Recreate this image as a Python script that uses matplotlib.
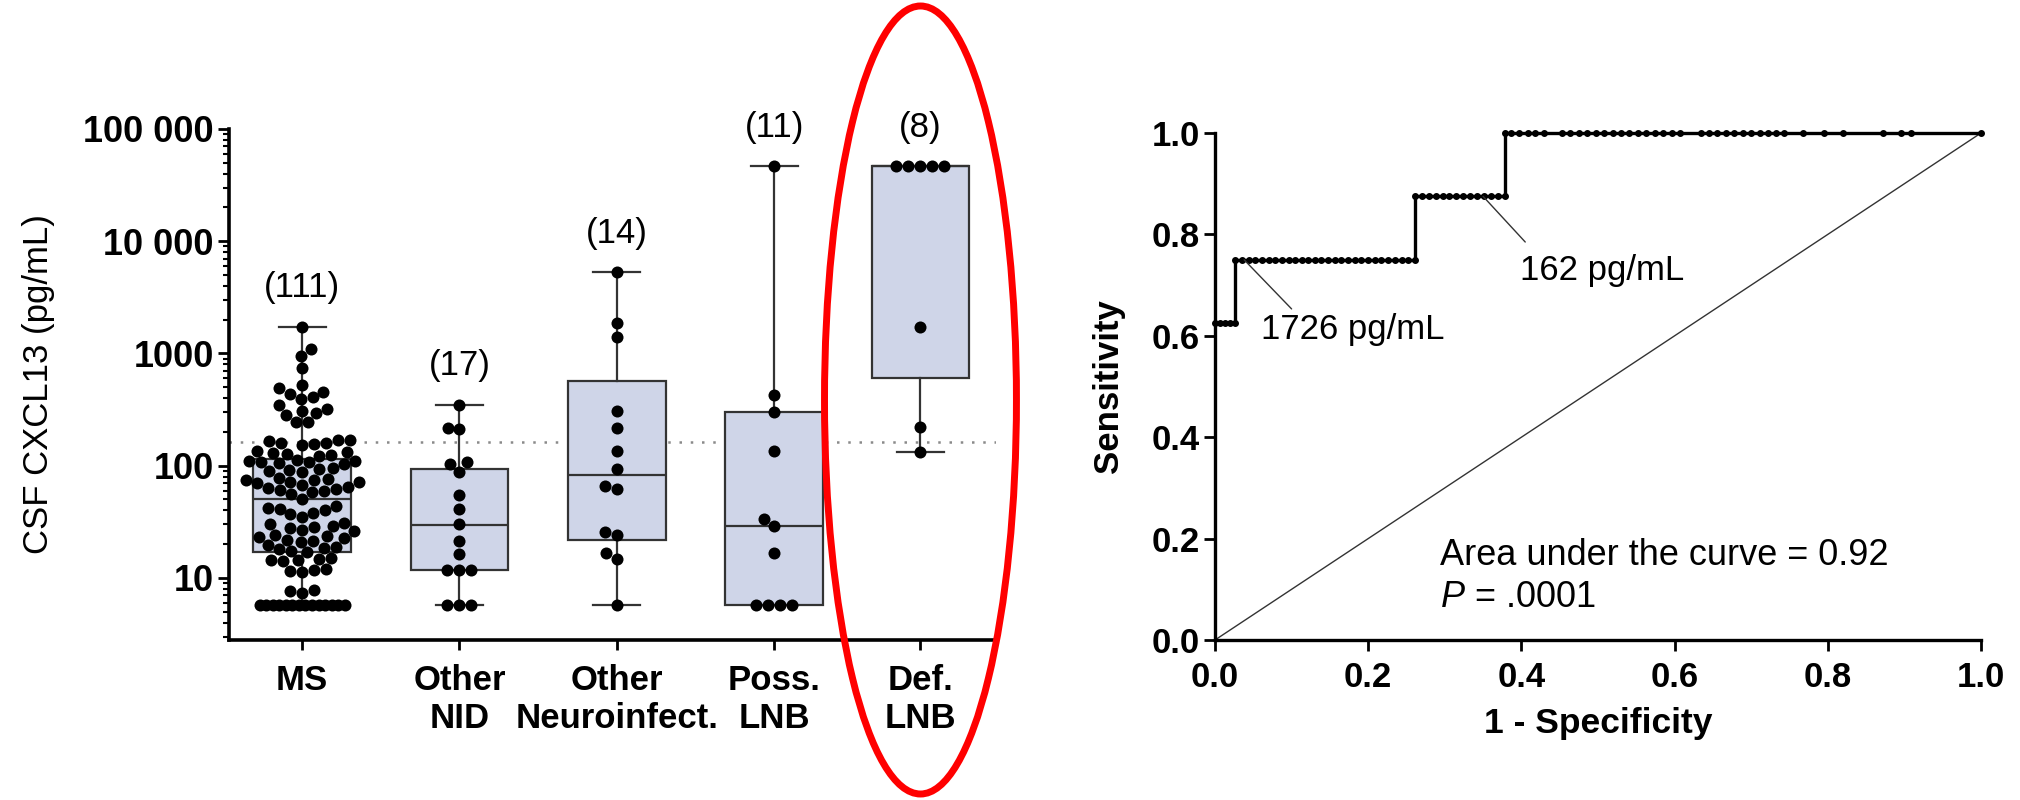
import numpy as np
import matplotlib
matplotlib.use("Agg")
import matplotlib.pyplot as plt
from matplotlib import transforms
from matplotlib.patches import Ellipse
from matplotlib.ticker import FixedLocator, LogLocator, NullFormatter

plt.rcParams['font.family'] = ['Liberation Sans', 'DejaVu Sans']
plt.rcParams['mathtext.fontset'] = 'custom'
plt.rcParams['mathtext.it'] = 'Liberation Sans:italic'
plt.rcParams['mathtext.rm'] = 'Liberation Sans'

# ---- left panel: CSF CXCL13 per group (pg/mL) ----
GROUPS = ["MS", "Other\nNID", "Other\nNeuroinfect.", "Poss.\nLNB", "Def.\nLNB"]

ms_values = [1726, 1085, 940, 736, 521, 490, 452, 434, 407, 392, 345, 320, 307, 295, 283, 245, 245,
             170, 168, 165, 160, 158, 155, 153,
             135, 132, 130, 128, 125, 122,
             112, 111, 110, 108, 107, 105, 104,
             95, 93, 92, 90, 88,
             78, 76, 75, 74, 72, 71, 70, 68,
             64, 63, 62, 61, 60, 58, 56,
             51,
             44, 42, 41, 40, 38, 37, 35,
             31, 30, 29, 28.5, 28, 27, 26,
             24, 23.5, 23, 22.5, 22, 21.5, 21,
             19.5, 19, 18.5, 18, 17.5, 17,
             15, 14.8, 14.6, 14.4, 14.2,
             12, 11.8, 11.6, 11.4,
             7.8, 7.6, 7.4,
             5.8, 5.8, 5.8, 5.8, 5.8, 5.8, 5.8, 5.8, 5.8, 5.8, 5.8, 5.8, 5.8, 5.8]
nid_values = [349, 215, 212, 107, 103, 88, 55, 41, 30, 21.5, 16.5, 11.7, 11.7, 11.7, 5.8, 5.8, 5.8]
neuro_values = [5300, 1850, 1390, 306, 215, 136, 93.6, 66, 62, 25.7, 24, 16.6, 14.8, 5.8]
poss_values = [46400, 425, 300, 136, 33.4, 29.3, 16.6, 5.8, 5.8, 5.8, 5.8]
def_values = [46400, 46400, 46400, 46400, 46400, 1726, 220, 133]

box_q1 = [16.9, 11.7, 22, 5.8, 604]
box_med = [50.7, 29.9, 82, 29.3, 46400]
box_q3 = [114, 93.6, 565, 300, 46400]
whisk_lo = [5.8, 5.8, 5.8, 5.8, 133]
whisk_hi = [1726, 349, 5300, 46400, 46400]

cutoff = 162

y_ticks = [10, 100, 1000, 10000, 100000]
y_tick_labels = ["10", "100", "1000", "10 000", "100 000"]

# ---- right panel: ROC curve ----
roc_levels = [0.625, 0.75, 0.875, 1.0]
roc_fpr_l1 = [0.0, 0.007, 0.013, 0.020, 0.026]
roc_fpr_l2 = [0.026, 0.035, 0.044, 0.052, 0.061, 0.070, 0.078, 0.087, 0.096, 0.104, 0.113, 0.122,
              0.131, 0.139, 0.148, 0.157, 0.165, 0.174, 0.183, 0.191, 0.200, 0.209, 0.217, 0.226,
              0.235, 0.244, 0.252, 0.261]
roc_fpr_l3 = [0.261, 0.270, 0.279, 0.288, 0.297, 0.306, 0.315, 0.324, 0.333, 0.342, 0.351, 0.360,
              0.369, 0.379]
roc_fpr_l4 = [0.379, 0.386, 0.397, 0.408, 0.418, 0.429, 0.453, 0.464, 0.475, 0.486, 0.497, 0.508,
              0.519, 0.530, 0.541, 0.552, 0.563, 0.574, 0.585, 0.596, 0.607, 0.634, 0.645, 0.656,
              0.667, 0.678, 0.689, 0.700, 0.711, 0.722, 0.733, 0.743, 0.768, 0.795, 0.820, 0.872,
              0.896, 0.909, 1.0]
roc_ticks = [0.0, 0.2, 0.4, 0.6, 0.8, 1.0]

BOX_FACE = "#cfd5e8"
EDGE = "#333333"
GROUP_POS = [0, 1, 2, 3, 3.93]


def swarm_x(values, center, ax, d=12.0, max_span=85.0):
    """Beeswarm offsets computed in pixel space; equal values go in one row."""
    vals = np.asarray(values, float)
    ypix = ax.transData.transform(np.column_stack([np.full(len(vals), center), vals]))[:, 1]
    xoff = np.zeros(len(vals))
    done = np.zeros(len(vals), bool)
    placed = []
    for v in np.unique(vals):
        idx = np.where(vals == v)[0]
        if len(idx) > 1:
            step = min(d, max_span / (len(idx) - 1))
            offs = (np.arange(len(idx)) - (len(idx) - 1) / 2) * step
            xoff[idx] = offs
            done[idx] = True
            placed += [(o, ypix[idx[0]]) for o in offs]
    for i in np.argsort(ypix):
        if done[i]:
            continue
        y = ypix[i]
        near = [(px, py) for px, py in placed if abs(py - y) < d]
        cands = [0.0]
        for px, py in near:
            dx = np.sqrt(d ** 2 - (py - y) ** 2)
            cands += [px - dx, px + dx]
        for c in sorted(cands, key=abs):
            if all((c - px) ** 2 + (y - py) ** 2 >= d ** 2 - 1e-6 for px, py in near):
                xoff[i] = c
                break
        placed.append((xoff[i], y))
    ppu = ax.transData.transform((1, 1))[0] - ax.transData.transform((0, 1))[0]
    return center + xoff / ppu


fig = plt.figure(figsize=(20.2, 8), dpi=100)
ax1 = fig.add_axes([229 / 2020, 0.2, (996 - 229) / 2020, (640 - 129) / 800])
ax2 = fig.add_axes([1215 / 2020, 0.2, (1981 - 1215) / 2020, (640 - 133) / 800])

# ---------- left panel ----------
ax1.set_yscale('log')
ax1.set_ylim(2.8, 100000)
ax1.set_xlim(-0.465, GROUP_POS[-1] + 0.48)

ax1.axhline(cutoff, color="#8a8a8a", lw=1.8, linestyle=(0, (1, 3.5)), zorder=1)

stats = []
for i in range(len(GROUPS)):
    stats.append(dict(med=box_med[i], q1=box_q1[i], q3=box_q3[i],
                      whislo=whisk_lo[i], whishi=whisk_hi[i], fliers=[]))
ax1.bxp(stats, positions=GROUP_POS, widths=0.62, capwidths=0.30, patch_artist=True,
        showfliers=False,
        boxprops=dict(facecolor=BOX_FACE, edgecolor=EDGE, linewidth=1.6),
        medianprops=dict(color=EDGE, linewidth=1.6),
        whiskerprops=dict(color=EDGE, linewidth=1.6),
        capprops=dict(color=EDGE, linewidth=1.6),
        zorder=2)

all_groups = [ms_values, nid_values, neuro_values, poss_values, def_values]
for pos, vals, top in zip(GROUP_POS, all_groups, whisk_hi):
    xs = swarm_x(vals, pos, ax1)
    ax1.scatter(xs, vals, s=75, color="black", linewidths=0, zorder=4, clip_on=False)
    ax1.annotate(f"({len(vals)})", xy=(pos, top), xytext=(0, 28), textcoords='offset points',
                 ha='center', va='center', fontsize=25)

ax1.yaxis.set_major_locator(FixedLocator(y_ticks))
ax1.set_yticklabels(y_tick_labels, fontweight='bold', fontsize=26)
ax1.yaxis.set_minor_locator(LogLocator(base=10, subs=np.arange(2, 10)))
ax1.yaxis.set_minor_formatter(NullFormatter())
ax1.set_xticks(GROUP_POS)
ax1.set_xticklabels(GROUPS, fontweight='bold', fontsize=25, linespacing=1.2)
ax1.set_ylabel("CSF CXCL13 (pg/mL)", fontsize=25)
ax1.yaxis.set_label_coords(-0.227, 0.5)

for side in ("top", "right"):
    ax1.spines[side].set_visible(False)
for side in ("left", "bottom"):
    ax1.spines[side].set_linewidth(2.6)
ax1.tick_params(axis='y', which='major', length=8, width=2.0, direction='out', pad=3)
ax1.tick_params(axis='y', which='minor', length=4.5, width=1.5, direction='out')
ax1.tick_params(axis='x', length=7, width=2.0, direction='out', pad=10)

# red ellipse around the definite LNB group
trans = transforms.blended_transform_factory(ax1.transData, fig.transFigure)
ax1.add_patch(Ellipse((GROUP_POS[-1], 0.5), width=1.22, height=0.985, transform=trans,
                      fill=False, edgecolor="#ff0000", linewidth=5, clip_on=False, zorder=6))

# ---------- right panel ----------
fpr, tpr = [], []
for lvl, seg in zip(roc_levels, [roc_fpr_l1, roc_fpr_l2, roc_fpr_l3, roc_fpr_l4]):
    fpr += seg
    tpr += [lvl] * len(seg)

ax2.plot([0, 1], [0, 1], color="#333333", lw=1.0, zorder=2)
ax2.plot(fpr, tpr, color="black", lw=2.4, marker='o', markersize=4.0, clip_on=False, zorder=3)

ax2.set_xlim(0, 1)
ax2.set_ylim(0, 1)
ax2.set_xticks(roc_ticks)
ax2.set_yticks(roc_ticks)
ax2.set_xticklabels([f"{t:.1f}" for t in roc_ticks], fontweight='bold', fontsize=25)
ax2.set_yticklabels([f"{t:.1f}" for t in roc_ticks], fontweight='bold', fontsize=25)
ax2.set_xlabel("1 - Specificity", fontweight='bold', fontsize=25.5, labelpad=9.5)
ax2.set_ylabel("Sensitivity", fontweight='bold', fontsize=25)
ax2.yaxis.set_label_coords(-0.117, 0.5)

for side in ("top", "right"):
    ax2.spines[side].set_visible(False)
for side in ("left", "bottom"):
    ax2.spines[side].set_linewidth(2.4)
ax2.tick_params(length=8, width=2.0, direction='out', pad=7)
ax2.tick_params(axis='y', pad=3)

arrow = dict(arrowstyle='-', color="#333333", lw=1.0, shrinkA=0, shrinkB=0)
ax2.annotate("", xy=(0.038, 0.75), xytext=(0.10, 0.653), arrowprops=arrow)
ax2.text(0.06, 0.593, "1726 pg/mL", fontsize=25, ha='left', va='baseline')
ax2.annotate("", xy=(0.35, 0.875), xytext=(0.405, 0.785), arrowprops=arrow)
ax2.text(0.398, 0.71, "162 pg/mL", fontsize=25, ha='left', va='baseline')
ax2.text(0.294, 0.148, "Area under the curve = 0.92", fontsize=26, ha='left', va='baseline')
ax2.text(0.294, 0.066, r"$P$ = .0001", fontsize=26, ha='left', va='baseline')

fig.savefig("out.png", dpi=100)
